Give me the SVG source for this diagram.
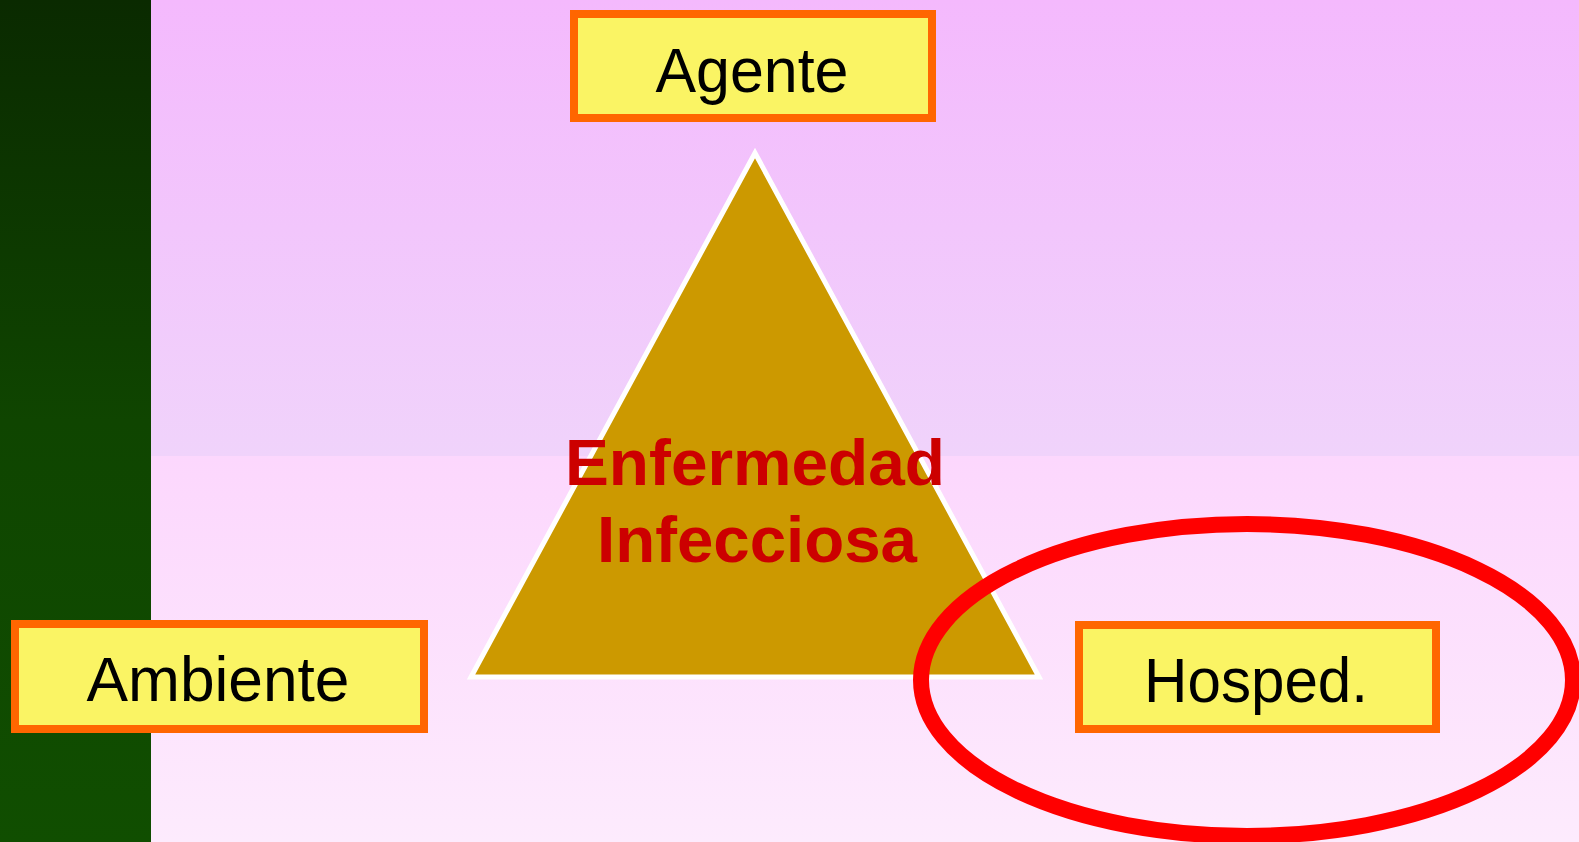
<svg xmlns="http://www.w3.org/2000/svg" width="1579" height="842" viewBox="0 0 1579 842">
<defs>
<linearGradient id="bgTop" x1="0" y1="0" x2="0" y2="1">
<stop offset="0" stop-color="#f4b9fd"/>
<stop offset="1" stop-color="#f0d3fb"/>
</linearGradient>
<linearGradient id="bgBot" x1="0" y1="0" x2="0" y2="1">
<stop offset="0" stop-color="#fcd7fd"/>
<stop offset="1" stop-color="#fdebfd"/>
</linearGradient>
<linearGradient id="green" x1="0" y1="0" x2="0" y2="1">
<stop offset="0" stop-color="#0a2a00"/>
<stop offset="0.5" stop-color="#0f4500"/>
<stop offset="1" stop-color="#104e00"/>
</linearGradient>
<style>
.box{fill:#faf464;stroke:#ff6600;stroke-width:8}
.lbl{font-family:"Liberation Sans",Arial,sans-serif;font-size:63px;fill:#000;text-anchor:middle}
.title{font-family:"Liberation Sans",Arial,sans-serif;font-size:65px;font-weight:bold;fill:#cc0000;text-anchor:middle}
</style>
</defs>
<rect x="0" y="0" width="1579" height="456" fill="url(#bgTop)"/>
<rect x="0" y="456" width="1579" height="386" fill="url(#bgBot)"/>
<rect x="0" y="0" width="151" height="842" fill="url(#green)"/>
<g id="triangle">
<polygon points="755,153 471,677 1039,677" fill="#cc9900" stroke="#ffffff" stroke-width="5"/>
<text class="title" x="755" y="485" textLength="380" lengthAdjust="spacingAndGlyphs">Enfermedad</text>
<text class="title" x="757" y="562" textLength="320" lengthAdjust="spacingAndGlyphs">Infecciosa</text>
</g>
<g id="agente">
<rect class="box" x="574" y="14" width="358" height="104"/>
<text class="lbl" x="752" y="92" textLength="193" lengthAdjust="spacingAndGlyphs">Agente</text>
</g>
<g id="ambiente">
<rect class="box" x="15" y="624" width="409" height="105"/>
<text class="lbl" x="218" y="701" textLength="263" lengthAdjust="spacingAndGlyphs">Ambiente</text>
</g>
<g id="hosped">
<rect class="box" x="1079" y="625" width="357" height="104"/>
<text class="lbl" x="1256" y="702" textLength="224" lengthAdjust="spacingAndGlyphs">Hosped.</text>
</g>
<g id="connectors">
<ellipse cx="1247" cy="680" rx="326" ry="156" fill="none" stroke="#ff0000" stroke-width="16"/>
</g>
</svg>
